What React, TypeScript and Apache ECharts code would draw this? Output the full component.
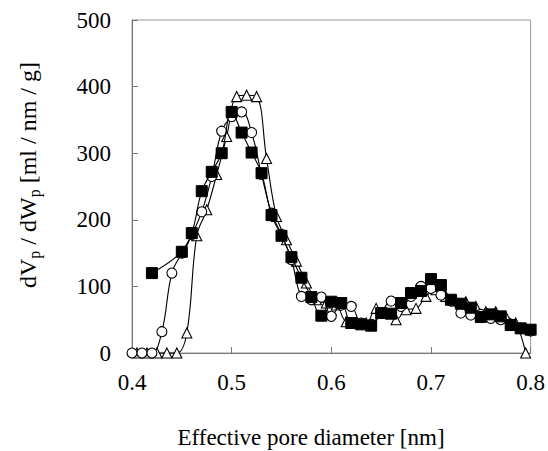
import React, { useEffect, useRef } from "react";
import * as echarts from "echarts";

const xTicks = [0.4, 0.5, 0.6, 0.7, 0.8];
const yTicks = [0, 100, 200, 300, 400, 500];

const squareX = [0.42,0.45,0.46,0.47,0.48,0.49,0.50,0.51,0.52,0.53,0.54,0.55,0.56,0.57,0.58,0.59,0.60,0.61,0.62,0.63,0.64,0.65,0.66,0.67,0.68,0.69,0.70,0.71,0.72,0.73,0.74,0.75,0.76,0.77,0.78,0.79,0.80];
const squareY = [120,152,180,243,272,300,362,331,301,270,207,176,144,113,84,56,77,75,45,43,41,60,59,75,90,93,111,102,80,74,68,54,58,55,42,37,35];

const circleX = [0.40,0.41,0.42,0.43,0.44,0.45,0.46,0.47,0.48,0.49,0.50,0.51,0.52,0.53,0.54,0.55,0.56,0.57,0.58,0.59,0.60,0.61,0.62,0.63,0.64,0.65,0.66,0.67,0.68,0.69,0.70,0.71,0.72,0.73,0.74,0.75,0.76,0.77,0.78,0.79,0.80];
const circleY = [0,0,0,32,120,150,178,212,265,333,355,362,331,268,210,178,140,85,80,84,55,72,70,45,43,60,78,70,85,100,97,87,78,60,57,58,52,50,42,37,33];

const triX = [0.405,0.415,0.425,0.435,0.445,0.455,0.465,0.475,0.485,0.495,0.505,0.515,0.525,0.535,0.545,0.555,0.565,0.575,0.585,0.595,0.605,0.615,0.625,0.635,0.645,0.655,0.665,0.675,0.685,0.695,0.705,0.715,0.725,0.735,0.745,0.755,0.765,0.775,0.785,0.795];
const triY = [0,0,0,0,0,30,176,215,268,325,385,387,385,292,205,170,138,105,80,75,72,47,45,45,67,60,50,65,67,85,95,85,78,77,70,62,62,55,45,0];

const xTitle = "Effective pore diameter [nm]";

const zip = (xs: number[], ys: number[]) => xs.map((x, i) => [x, ys[i]]);

export default function App() {
  const ref = useRef<HTMLDivElement>(null);
  useEffect(() => {
    if (!ref.current) return;
    const chart = echarts.init(ref.current, undefined, { renderer: "svg" });
    const font = "Liberation Serif";
    const base = {
      type: "line" as const,
      smooth: 0.4,
      clip: false,
      lineStyle: { color: "#000", width: 1.1 },
      symbolSize: 10,
    };
    chart.setOption({
      animation: false,
      backgroundColor: "#fff",
      grid: {
        left: 132,
        right: 16,
        top: 20,
        bottom: 98,
        show: true,
        borderColor: "#999",
        borderWidth: 1,
      },
      xAxis: {
        type: "value",
        min: xTicks[0],
        max: xTicks[xTicks.length - 1],
        interval: 0.1,
        axisLine: { lineStyle: { color: "#777" } },
        axisTick: { inside: true, length: 6, lineStyle: { color: "#777" } },
        splitLine: { show: false },
        axisLabel: {
          margin: 18,
          color: "#000",
          fontFamily: font,
          fontSize: 23,
          formatter: (v: number) => v.toFixed(1),
        },
      },
      yAxis: {
        type: "value",
        min: yTicks[0],
        max: yTicks[yTicks.length - 1],
        interval: 100,
        axisLine: { show: true, lineStyle: { color: "#777" } },
        axisTick: { show: true, inside: true, length: 6, lineStyle: { color: "#777" } },
        splitLine: { show: false },
        axisLabel: {
          margin: 21,
          color: "#000",
          fontFamily: font,
          fontSize: 23,
        },
      },
      graphic: [
        {
          type: "text",
          x: 311,
          y: 437,
          style: {
            text: xTitle,
            fill: "#000",
            font: `23px "${font}"`,
            textAlign: "center",
            textVerticalAlign: "middle",
          },
        },
        {
          type: "text",
          x: 28,
          y: 175,
          rotation: Math.PI / 2,
          style: {
            text: "{a|dV}{s|p}{a| / dW}{s|p}{a| [ml / nm / g]}",
            fill: "#000",
            align: "center",
            verticalAlign: "middle",
            rich: {
              a: { fontFamily: font, fontSize: 24, fill: "#000" },
              s: { fontFamily: font, fontSize: 16, fill: "#000", padding: [13, 0, 0, 0] },
            },
          },
        },
      ],
      series: [
        {
          ...base,
          name: "square",
          data: zip(squareX, squareY),
          symbol: "rect",
          symbolSize: 11,
          itemStyle: { color: "#000", borderColor: "#000" },
          z: 5,
        },
        {
          ...base,
          name: "circle",
          data: zip(circleX, circleY),
          symbol: "circle",
          itemStyle: { color: "#fff", borderColor: "#000", borderWidth: 1.1 },
          z: 4,
        },
        {
          ...base,
          name: "triangle",
          data: zip(triX, triY),
          symbol: "triangle",
          symbolSize: 10,
          itemStyle: { color: "#fff", borderColor: "#000", borderWidth: 1.1 },
          z: 3,
        },
      ],
    });
    return () => chart.dispose();
  }, []);
  return (
    <div
      ref={ref}
      style={{ position: "absolute", left: 0, top: 0, width: 548, height: 451 }}
    />
  );
}
